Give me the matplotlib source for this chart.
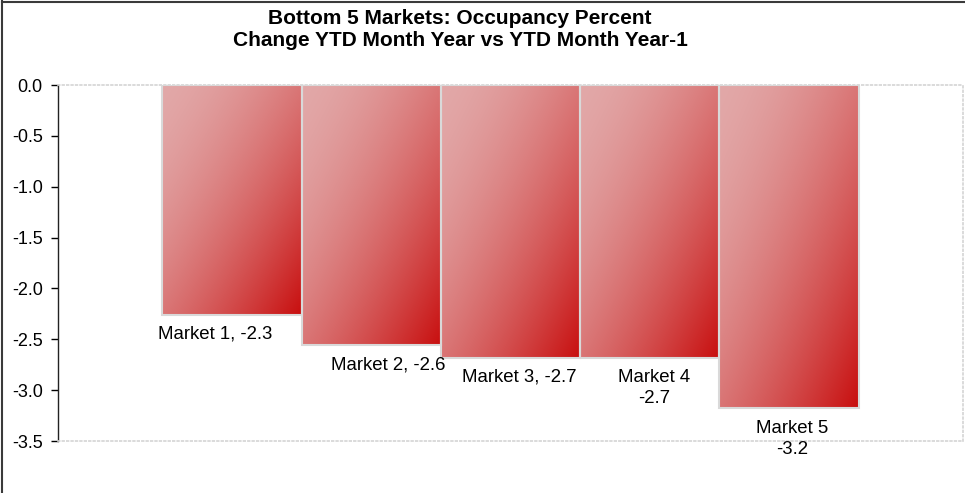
import matplotlib.pyplot as plt
import numpy as np
from matplotlib.lines import Line2D

plt.rcParams['font.family'] = ['Liberation Sans', 'DejaVu Sans']

# data
markets = ['Market 1', 'Market 2', 'Market 3', 'Market 4', 'Market 5']
changes = [-2.26, -2.56, -2.68, -2.68, -3.18]
two_line = [False, False, False, True, True]
label_dx = [-17, 17, 9, 4, 3]  # label nudges in pixels

title = 'Bottom 5 Markets: Occupancy Percent\nChange YTD Month Year vs YTD Month Year-1'

W, H = 965, 493
fig = plt.figure(figsize=(W / 100, H / 100), dpi=100)
ax = fig.add_axes([58 / W, 1 - 441 / H, (963 - 58) / W, (441 - 85) / H])

x = np.arange(len(markets))
bars = ax.bar(x, changes, width=1.0, facecolor='none', edgecolor='#d9d9d9',
              linewidth=1.5, zorder=3)

# diagonal gradient, light top-left to deep red bottom-right
light = np.array([226, 168, 168]) / 255
dark = np.array([200, 14, 14]) / 255
u = np.linspace(0, 1, 200)
uu, vv = np.meshgrid(u, u)
t = ((uu + vv) / 2) ** 1.6
grad = light[None, None, :] * (1 - t[..., None]) + dark[None, None, :] * t[..., None]

for b in bars:
    x0, w, h = b.get_x(), b.get_width(), b.get_height()
    im = ax.imshow(grad, extent=(x0, x0 + w, h, 0), aspect='auto',
                   interpolation='bilinear', zorder=2)
    im.set_clip_path(b)

ax.set_xlim(-1.25, len(markets) - 1 + 1.25)
ax.set_ylim(-3.5, 0)
ax.set_yticks(np.arange(-3.5, 0.01, 0.5))
ax.set_yticklabels([f'{v:.1f}' for v in np.arange(-3.5, 0.01, 0.5)])
ax.set_xticks([])
ax.tick_params(axis='y', direction='out', length=5, width=1, labelsize=13,
               colors='black', pad=6)

for s in ['top', 'right', 'bottom']:
    ax.spines[s].set_color('#d4d4d4')
    ax.spines[s].set_linestyle(':')
    ax.spines[s].set_linewidth(1.2)
ax.spines['left'].set_color('#222222')
ax.spines['left'].set_linewidth(1)

for i, (m, v) in enumerate(zip(markets, changes)):
    sep = '\n' if two_line[i] else ', '
    ax.annotate(f'{m}{sep}{v:.1f}', xy=(x[i], v), xytext=(label_dx[i] * 0.72, -8),
                textcoords='offset points', ha='center', va='top',
                fontsize=13.4, linespacing=1.35, zorder=4)

fig.text(460 / W, 1 - 9 / H, title, ha='center', va='top', fontsize=15,
         fontweight='bold', linespacing=1.2)

# outer chart frame
fig.add_artist(Line2D([2 / W, 2 / W], [0, 1 - 1 / H], color='#3a3a3a', lw=1.5))
fig.add_artist(Line2D([2 / W, 1], [1 - 1.5 / H, 1 - 1.5 / H], color='#3a3a3a', lw=1.5))

fig.savefig('out.png', dpi=100)
